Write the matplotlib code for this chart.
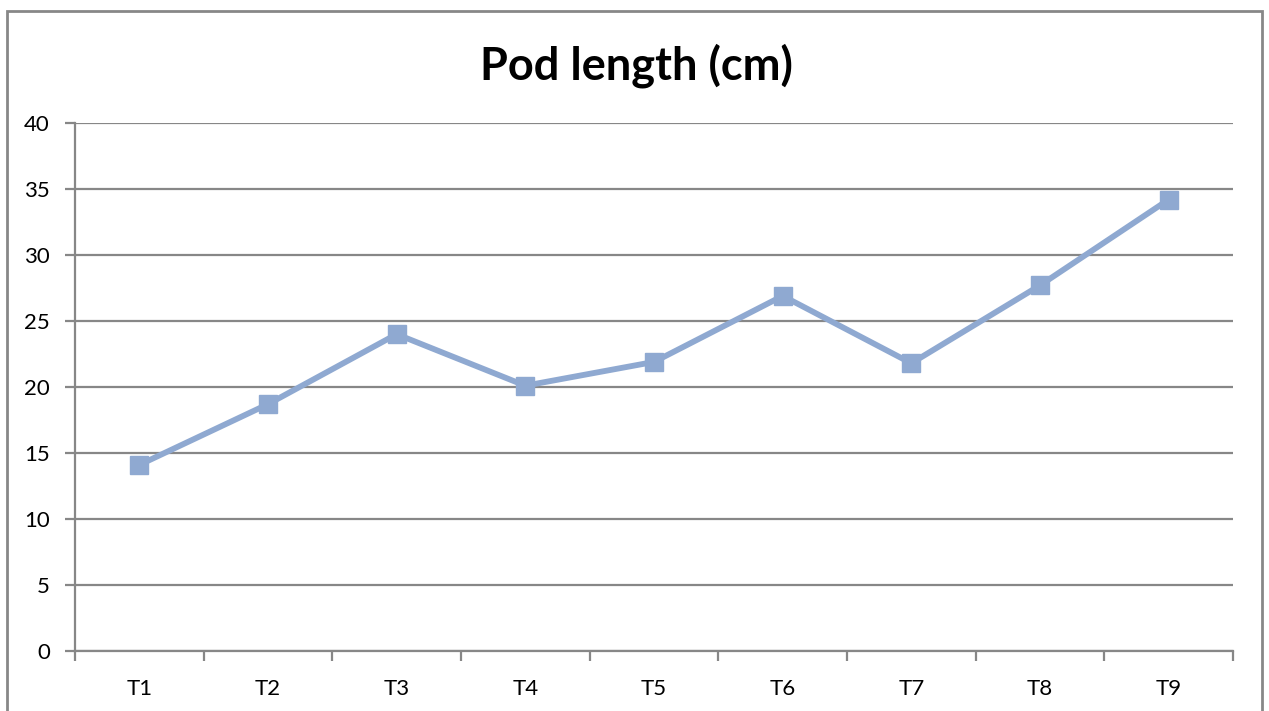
import numpy as np
import matplotlib
matplotlib.use('Agg')
import matplotlib.pyplot as plt
from matplotlib.patches import Rectangle

# Pod length per treatment
treatments = ['T1', 'T2', 'T3', 'T4', 'T5', 'T6', 'T7', 'T8', 'T9']
pod_length = [14.1, 18.7, 24.0, 20.1, 21.9, 26.9, 21.8, 27.7, 34.2]
y_ticks = [0, 5, 10, 15, 20, 25, 30, 35, 40]

GRID = '#878787'
SERIES = '#8FA9D1'

plt.rcParams['font.family'] = ['Lato', 'DejaVu Sans']

fig = plt.figure(figsize=(12.69, 7.11), dpi=100)
ax = fig.add_axes([75 / 1269, 1 - 651 / 711, 1158 / 1269, 528 / 711])

x = np.arange(1, len(treatments) + 1)
ax.plot(x, pod_length, color=SERIES, linewidth=4.2, marker='s',
        markersize=13, markerfacecolor=SERIES, markeredgecolor=SERIES,
        solid_joinstyle='miter', zorder=3)

ax.set_xlim(0.5, len(treatments) + 0.5)
ax.set_ylim(0, 40)
ax.set_yticks(y_ticks)
ax.set_yticklabels([str(v) for v in y_ticks])
ax.yaxis.grid(True, color=GRID, linewidth=1.6)
ax.set_axisbelow(True)

# category labels centred, tick marks on category boundaries
ax.set_xticks(x)
ax.set_xticklabels(treatments)
ax.set_xticks(np.arange(0.5, len(treatments) + 1), minor=True)
ax.tick_params(axis='x', which='major', length=0, pad=20, labelsize=16)
ax.tick_params(axis='x', which='minor', length=7, width=1.6, color=GRID)
ax.tick_params(axis='y', length=7, width=1.6, color=GRID, pad=11,
               labelsize=16)

for side in ('top', 'right'):
    ax.spines[side].set_visible(False)
for side in ('left', 'bottom'):
    ax.spines[side].set_color(GRID)
    ax.spines[side].set_linewidth(1.6)

fig.text(636 / 1269, 1 - 66 / 711, 'Pod length (cm)', ha='center',
         va='center', fontsize=32.5, fontweight='bold')

# chart frame
fig.patches.append(Rectangle((7 / 1269, -0.05), 1255 / 1269, 1.05 - 11 / 711,
                             transform=fig.transFigure, fill=False,
                             edgecolor=GRID, linewidth=2))

fig.savefig('out.png', dpi=100)
